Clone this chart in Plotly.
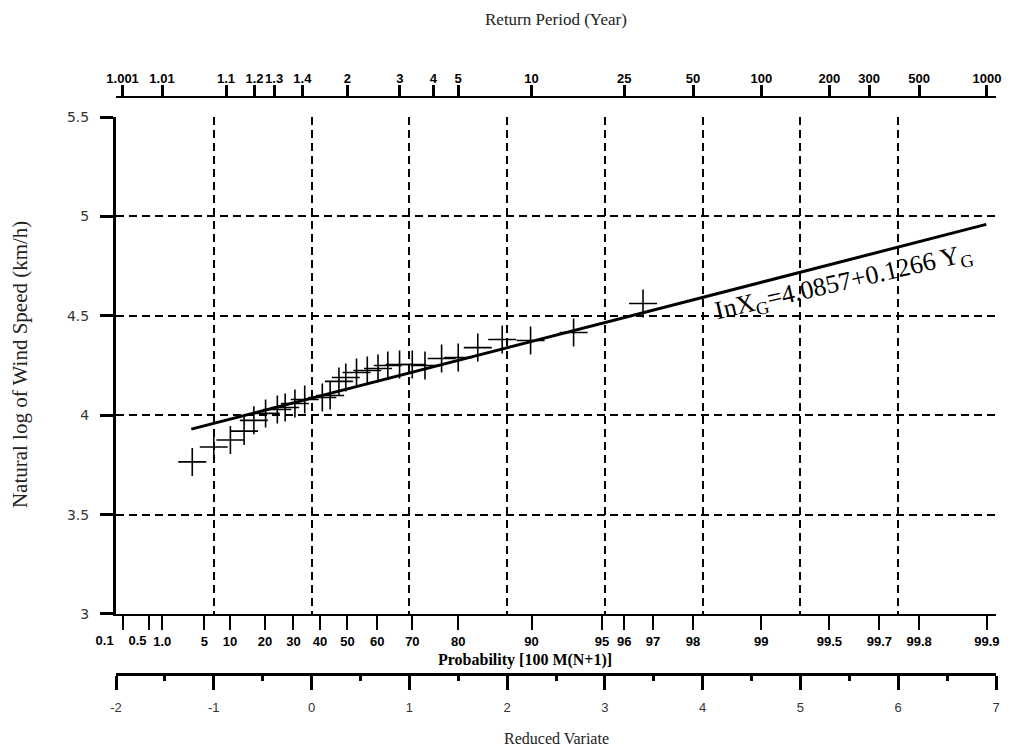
import numpy as np
import plotly.graph_objects as go

# ---------------- data ----------------
reduced_variate = [-1.22, -1.00, -0.83, -0.69, -0.59, -0.47, -0.35, -0.27, -0.17, -0.07,
                   0.11, 0.19, 0.28, 0.35, 0.46, 0.57, 0.68, 0.78, 0.90, 1.03,
                   1.16, 1.33, 1.50, 1.70, 1.95, 2.24, 2.68, 3.39]
ln_wind_speed = [3.765, 3.840, 3.875, 3.920, 3.974, 4.009, 4.029, 4.039, 4.059, 4.079,
                 4.089, 4.099, 4.170, 4.190, 4.215, 4.225, 4.235, 4.250, 4.255, 4.255,
                 4.250, 4.285, 4.290, 4.340, 4.381, 4.376, 4.416, 4.562]

# fitted line lnX = 4.0857 + 0.1266 Y  (end points as drawn)
fit_x = [-1.23, 6.90]
fit_y = [3.93, 4.96]

# return period scale (top); the "1.4" tick is drawn at the T=1.5 position in the original
return_period = [1.001, 1.01, 1.1, 1.2, 1.3, 1.5, 2, 3, 4, 5, 10, 25, 50, 100, 200, 300, 500, 1000]
return_labels = ["1.001", "1.01", "1.1", "1.2", "1.3", "1.4", "2", "3", "4", "5", "10",
                 "25", "50", "100", "200", "300", "500", "1000"]

# probability scale (bottom)
probability = [0.1, 0.5, 1.0, 5, 10, 20, 30, 40, 50, 60, 70, 80, 90, 95, 96, 97, 98, 99,
               99.5, 99.7, 99.8, 99.9]
prob_labels = ["0.1", "0.5", "1.0", "5", "10", "20", "30", "40", "50", "60", "70", "80",
               "90", "95", "96", "97", "98", "99", "99.5", "99.7", "99.8", "99.9"]

# reduced variate scale
rv_ticks = [-2, -1, 0, 1, 2, 3, 4, 5, 6, 7]
rv_labels = ["-2", "-1", "0", "1", "2", "3", "4", "5", "6", "7"]

y_ticks = [3, 3.5, 4, 4.5, 5, 5.5]
y_labels = ["3", "3.5", "4", "4.5", "5", "5.5"]


def gumbel_from_T(T):
    T = np.asarray(T, dtype=float)
    return -np.log(-np.log(1.0 - 1.0 / T))


def gumbel_from_P(P):
    P = np.asarray(P, dtype=float) / 100.0
    return -np.log(-np.log(P))


# the two crowded lowest labels are drawn on their own scales, shifted left
prob_text = ["" if i < 2 else t for i, t in enumerate(prob_labels)]

NARROW = "Liberation Sans Narrow, Arial Narrow, Liberation Sans, sans-serif"
SANS = "Liberation Sans, Arial, sans-serif"
WIDE = "DejaVu Sans, Liberation Sans, sans-serif"
SERIF = "Liberation Serif, Times New Roman, serif"
PROB_FONT = dict(family=NARROW, size=13, color="black", weight="bold")

fig = go.Figure()
fig.add_trace(go.Scatter(x=fit_x, y=fit_y, mode="lines",
                         line=dict(color="black", width=3), xaxis="x", yaxis="y",
                         hoverinfo="skip"))
fig.add_trace(go.Scatter(x=reduced_variate, y=ln_wind_speed, mode="markers",
                         marker=dict(symbol="cross-thin", size=20,
                                     line=dict(color="black", width=1.6)),
                         xaxis="x", yaxis="y"))
# invisible carrier traces so the extra scales are drawn
for ax in ["x2", "x3", "x4", "x5", "x6"]:
    fig.add_trace(go.Scatter(x=fit_x, y=fit_y, mode="lines", xaxis=ax, yaxis="y",
                             line=dict(width=0, color="rgba(0,0,0,0)"),
                             hoverinfo="skip", opacity=0))

xr = [-2, 7]


def shifted_prob_axis(i, shift):
    return dict(range=xr, overlaying="x", side="bottom", anchor="y",
                tickmode="array", tickvals=gumbel_from_P([probability[i]]),
                ticktext=[prob_labels[i]], ticks="outside", ticklen=14,
                tickcolor="rgba(0,0,0,0)", showline=False, showgrid=False,
                zeroline=False, tickangle=0, ticklabelstandoff=0,
                ticklabelshift=shift, tickfont=PROB_FONT)


fig.update_layout(
    width=1006, height=743,
    margin=dict(l=108, r=18, t=89, b=77, autoexpand=False),
    plot_bgcolor="white", paper_bgcolor="white", showlegend=False,
    xaxis=dict(range=xr, tick0=-2, dtick=1, showgrid=True, gridcolor="black",
               griddash="8px,5px", gridwidth=1.5, showticklabels=False, ticks="",
               showline=True, linecolor="black", linewidth=2, zeroline=False),
    xaxis2=dict(range=xr, overlaying="x", side="top", anchor="free", position=1,
                tickmode="array", tickvals=gumbel_from_T(return_period), ticktext=return_labels,
                ticks="outside", ticklen=11, tickwidth=3, tickcolor="black",
                showline=True, linewidth=2, linecolor="black", showgrid=False,
                zeroline=False, tickangle=0, ticklabelstandoff=-3,
                tickfont=dict(family=NARROW, size=13, color="black", weight="bold")),
    xaxis3=dict(range=xr, overlaying="x", side="bottom", anchor="y",
                tickmode="array", tickvals=gumbel_from_P(probability), ticktext=prob_text,
                ticks="outside", ticklen=14, tickwidth=2, tickcolor="black",
                showline=True, linewidth=2, linecolor="black", showgrid=False,
                zeroline=False, tickangle=0, ticklabelstandoff=0, tickfont=PROB_FONT),
    xaxis5=shifted_prob_axis(0, -18),
    xaxis6=shifted_prob_axis(1, -11),
    xaxis4=dict(range=xr, overlaying="x", side="bottom", anchor="free", position=0,
                tickmode="array", tickvals=rv_ticks, ticktext=rv_labels,
                ticks="outside", ticklen=14, tickwidth=2.5, tickcolor="black",
                minor=dict(dtick=0.5, tick0=-2, ticks="outside", ticklen=5, tickwidth=2.5,
                           tickcolor="black"),
                showline=True, linewidth=3, linecolor="black", showgrid=False,
                zeroline=False, tickangle=0, ticklabelstandoff=6,
                tickfont=dict(family=SANS, size=13, color="#333333")),
    yaxis=dict(range=[3, 5.5], domain=[0.104, 0.9653], tickmode="array",
               tickvals=y_ticks, ticktext=y_labels, ticks="outside", ticklen=13,
               tickwidth=3, tickcolor="black", showline=True, linewidth=3,
               linecolor="black", showgrid=True, gridcolor="black",
               griddash="8px,5px", gridwidth=1.5, zeroline=False, ticklabelstandoff=8,
               tickfont=dict(family=WIDE, size=14, color="#333333")),
    annotations=[
        dict(text="Return Period (Year)", xref="paper", yref="paper", x=0.5, y=1.135,
             xanchor="center", yanchor="middle", showarrow=False,
             font=dict(family=SERIF, size=17, color="#222")),
        dict(text="Probability [100 M(N+1)]", xref="paper", yref="paper", x=0.465, y=0.024,
             xanchor="center", yanchor="middle", showarrow=False,
             font=dict(family=SERIF, size=16, color="black", weight="bold")),
        dict(text="Reduced Variate", xref="paper", yref="paper", x=0.5, y=-0.111,
             xanchor="center", yanchor="middle", showarrow=False,
             font=dict(family=SERIF, size=16, color="#222")),
        dict(text="Natural log of Wind Speed (km/h)", xref="paper", yref="paper",
             x=-0.109, y=0.5355, textangle=-90, xanchor="center", yanchor="middle",
             showarrow=False, font=dict(family=SERIF, size=21, color="#222")),
        dict(text="InX<sub>G</sub>=4.0857+0.1266 Y<sub>G</sub>", xref="x", yref="y",
             x=5.44, y=4.665, textangle=-13, showarrow=False,
             font=dict(family=SERIF, size=26, color="black")),
    ],
)

fig.write_html("out.html")
